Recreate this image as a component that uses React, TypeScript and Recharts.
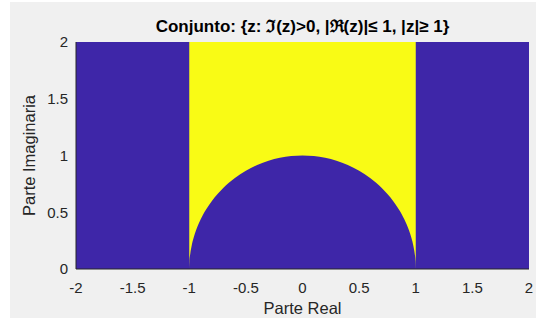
import { ComposedChart, Area, XAxis, YAxis, CartesianGrid } from "recharts";

// lower edge of the set: the unit circle
const arcX = [
  -1, -0.998, -0.99, -0.98, -0.96, -0.94, -0.92, -0.9, -0.85, -0.8, -0.75, -0.7, -0.6, -0.5, -0.4, -0.3, -0.2, -0.1,
  0, 0.1, 0.2, 0.3, 0.4, 0.5, 0.6, 0.7, 0.75, 0.8, 0.85, 0.9, 0.92, 0.94, 0.96, 0.98, 0.99, 0.998, 1,
];
const arcY = [
  0, 0.063, 0.141, 0.199, 0.28, 0.341, 0.392, 0.436, 0.527, 0.6, 0.661, 0.714, 0.8, 0.866, 0.917, 0.954, 0.98, 0.995,
  1, 0.995, 0.98, 0.954, 0.917, 0.866, 0.8, 0.714, 0.661, 0.6, 0.527, 0.436, 0.392, 0.341, 0.28, 0.199, 0.141, 0.063, 0,
];
const yTop = 2;

const xTicks = [-2, -1.5, -1, -0.5, 0, 0.5, 1, 1.5, 2];
const yTicks = [0, 0.5, 1, 1.5, 2];

const BLUE = "#3e26a8";
const YELLOW = "#f9fb15";
const TEXT = "#262626";
const FONT = "'Liberation Sans', Arial, Helvetica, sans-serif";

const data = arcX.map((x, i) => ({ x, range: [arcY[i], yTop] }));

export default function App() {
  return (
    <div
      style={{
        position: "absolute",
        left: 0,
        top: 0,
        width: 536,
        height: 320,
        background: "#fff",
        fontFamily: FONT,
      }}
    >
      <div style={{ position: "absolute", left: 10, top: 2, width: 526, height: 316, background: "#f0f0f0" }} />
      <div
        style={{
          position: "absolute",
          left: 76,
          width: 453,
          top: 17,
          lineHeight: "20px",
          textAlign: "center",
          fontSize: 17,
          fontWeight: "bold",
          color: "#000",
          whiteSpace: "nowrap",
        }}
      >
        Conjunto: {"{"}z: ℑ(z)&gt;0, |ℜ(z)|≤ 1, |z|≥ 1{"}"}
      </div>
      <div style={{ position: "absolute", left: 0, top: 0 }}>
        <ComposedChart width={536} height={320} data={data} margin={{ top: 42, right: 7, bottom: 0, left: 10 }}>
          <CartesianGrid horizontal={false} vertical={false} fill={BLUE} stroke="none" />
          <XAxis
            dataKey="x"
            type="number"
            domain={[-2, 2]}
            ticks={xTicks}
            height={51}
            tickLine={false}
            tickSize={0}
            tickMargin={13}
            axisLine={{ stroke: TEXT, strokeWidth: 1 }}
            tick={{ fontSize: 15, fill: TEXT, fontFamily: FONT }}
            label={(props: any) => {
              const vb = props.viewBox;
              return (
                <text
                  x={vb.x + vb.width / 2}
                  y={vb.y + 45}
                  textAnchor="middle"
                  fontSize={16.5}
                  fill={TEXT}
                  fontFamily={FONT}
                >
                  Parte Real
                </text>
              );
            }}
          />
          <YAxis
            type="number"
            domain={[0, 2]}
            ticks={yTicks}
            width={66}
            tickLine={false}
            tickSize={0}
            tickMargin={8}
            axisLine={{ stroke: TEXT, strokeWidth: 1 }}
            tick={{ fontSize: 15, fill: TEXT, fontFamily: FONT }}
            label={(props: any) => {
              const vb = props.viewBox;
              const cx = 35;
              const cy = vb.y + vb.height / 2;
              return (
                <text
                  x={cx}
                  y={cy}
                  transform={`rotate(-90 ${cx} ${cy})`}
                  textAnchor="middle"
                  fontSize={16.5}
                  fill={TEXT}
                  fontFamily={FONT}
                >
                  Parte Imaginaria
                </text>
              );
            }}
          />
          <Area
            dataKey="range"
            type="monotone"
            fill={YELLOW}
            fillOpacity={1}
            stroke="none"
            isAnimationActive={false}
          />
        </ComposedChart>
      </div>
    </div>
  );
}
